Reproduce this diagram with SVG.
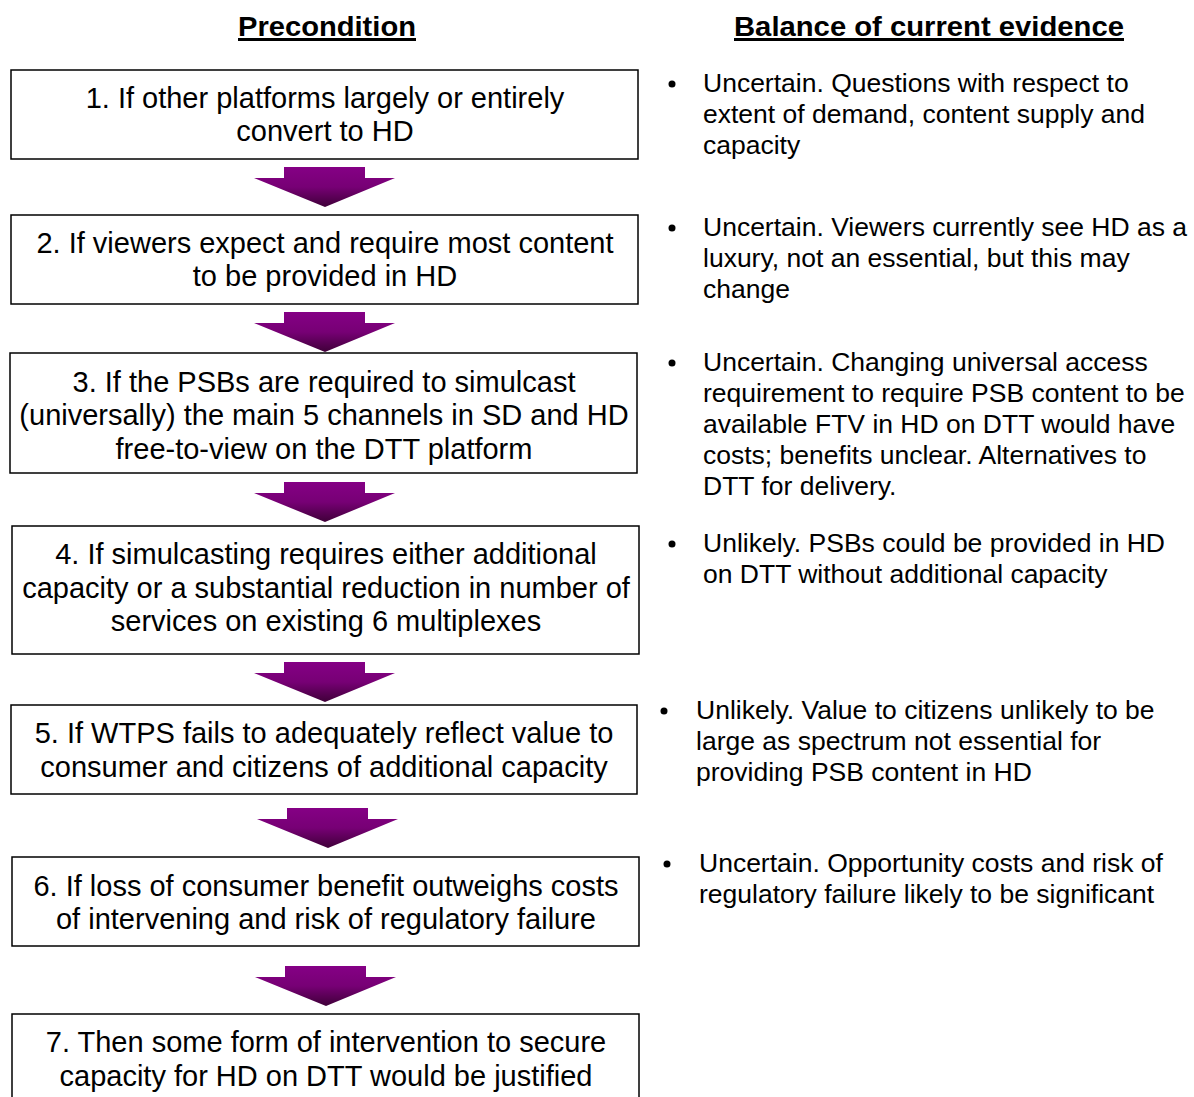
<svg xmlns="http://www.w3.org/2000/svg" width="1194" height="1097" viewBox="0 0 1194 1097">
<style>
.box{fill:#fff;stroke:#000;stroke-width:1.5}
.bt{font-family:"Liberation Sans",Arial,sans-serif;font-size:29px;fill:#000;text-anchor:middle}
.rt{font-family:"Liberation Sans",Arial,sans-serif;font-size:26.5px;fill:#000}
.hd{font-family:"Liberation Sans",Arial,sans-serif;font-size:28px;font-weight:bold;fill:#000}
.arr{fill:url(#g)}
</style>
<defs>
<linearGradient id="g" x1="0" y1="0" x2="0" y2="1">
<stop offset="0" stop-color="#850085"/>
<stop offset="0.5" stop-color="#770075"/>
<stop offset="1" stop-color="#3f0038"/>
</linearGradient>
</defs>
<rect width="1194" height="1097" fill="#fff"/>
<g id="headers">
<text class="hd" x="238" y="36" textLength="178" lengthAdjust="spacingAndGlyphs">Precondition</text>
<rect x="238" y="38" width="178" height="3" fill="#000"/>
<text class="hd" x="734" y="36" textLength="390" lengthAdjust="spacingAndGlyphs">Balance of current evidence</text>
<rect x="734" y="38" width="390" height="3" fill="#000"/>
</g>
<g id="node1"><rect class="box" x="11" y="70" width="627" height="89"/><text class="bt" x="325" y="108">1. If other platforms largely or entirely</text><text class="bt" x="325" y="141">convert to HD</text></g>
<g id="node2"><rect class="box" x="11" y="215" width="627" height="89"/><text class="bt" x="325" y="253">2. If viewers expect and require most content</text><text class="bt" x="325" y="286">to be provided in HD</text></g>
<g id="node3"><rect class="box" x="10" y="353" width="627" height="120"/><text class="bt" x="324" y="392">3. If the PSBs are required to simulcast</text><text class="bt" x="324" y="425">(universally) the main 5 channels in SD and HD</text><text class="bt" x="324" y="459">free-to-view on the DTT platform</text></g>
<g id="node4"><rect class="box" x="12" y="526" width="627" height="128"/><text class="bt" x="326" y="564">4. If simulcasting requires either additional</text><text class="bt" x="326" y="598">capacity or a substantial reduction in number of</text><text class="bt" x="326" y="631">services on existing 6 multiplexes</text></g>
<g id="node5"><rect class="box" x="11" y="705" width="626" height="89"/><text class="bt" x="324" y="743">5. If WTPS fails to adequately reflect value to</text><text class="bt" x="324" y="777">consumer and citizens of additional capacity</text></g>
<g id="node6"><rect class="box" x="12" y="857" width="627" height="89"/><text class="bt" x="326" y="896">6. If loss of consumer benefit outweighs costs</text><text class="bt" x="326" y="929">of intervening and risk of regulatory failure</text></g>
<g id="node7"><rect class="box" x="12" y="1014" width="627" height="100"/><text class="bt" x="326" y="1052">7. Then some form of intervention to secure</text><text class="bt" x="326" y="1086">capacity for HD on DTT would be justified</text></g>
<g id="connectors">
<polygon class="arr" points="284,167 365,167 365,178 395,178 325,207 254,178 284,178"/>
<polygon class="arr" points="284,312 365,312 365,323 395,323 325,352 254,323 284,323"/>
<polygon class="arr" points="284,482 365,482 365,493 395,493 325,522 254,493 284,493"/>
<polygon class="arr" points="284,662 365,662 365,673 395,673 325,702 254,673 284,673"/>
<polygon class="arr" points="287,808 368,808 368,819 398,819 328,848 257,819 287,819"/>
<polygon class="arr" points="285,966 366,966 366,977 396,977 326,1006 255,977 285,977"/>
</g>
<g id="evidence">
<circle cx="672" cy="84" r="3.5"/>
<text class="rt" x="703" y="92">Uncertain. Questions with respect to</text>
<text class="rt" x="703" y="123">extent of demand, content supply and</text>
<text class="rt" x="703" y="154">capacity</text>
<circle cx="672" cy="228" r="3.5"/>
<text class="rt" x="703" y="236">Uncertain. Viewers currently see HD as a</text>
<text class="rt" x="703" y="267">luxury, not an essential, but this may</text>
<text class="rt" x="703" y="298">change</text>
<circle cx="672" cy="363" r="3.5"/>
<text class="rt" x="703" y="371">Uncertain. Changing universal access</text>
<text class="rt" x="703" y="402">requirement to require PSB content to be</text>
<text class="rt" x="703" y="433">available FTV in HD on DTT would have</text>
<text class="rt" x="703" y="464">costs; benefits unclear. Alternatives to</text>
<text class="rt" x="703" y="495">DTT for delivery.</text>
<circle cx="672" cy="544" r="3.5"/>
<text class="rt" x="703" y="552">Unlikely. PSBs could be provided in HD</text>
<text class="rt" x="703" y="583">on DTT without additional capacity</text>
<circle cx="664" cy="711" r="3.5"/>
<text class="rt" x="696" y="719">Unlikely. Value to citizens unlikely to be</text>
<text class="rt" x="696" y="750">large as spectrum not essential for</text>
<text class="rt" x="696" y="781">providing PSB content in HD</text>
<circle cx="667" cy="864" r="3.5"/>
<text class="rt" x="699" y="872">Uncertain. Opportunity costs and risk of</text>
<text class="rt" x="699" y="903">regulatory failure likely to be significant</text>
</g>
</svg>
